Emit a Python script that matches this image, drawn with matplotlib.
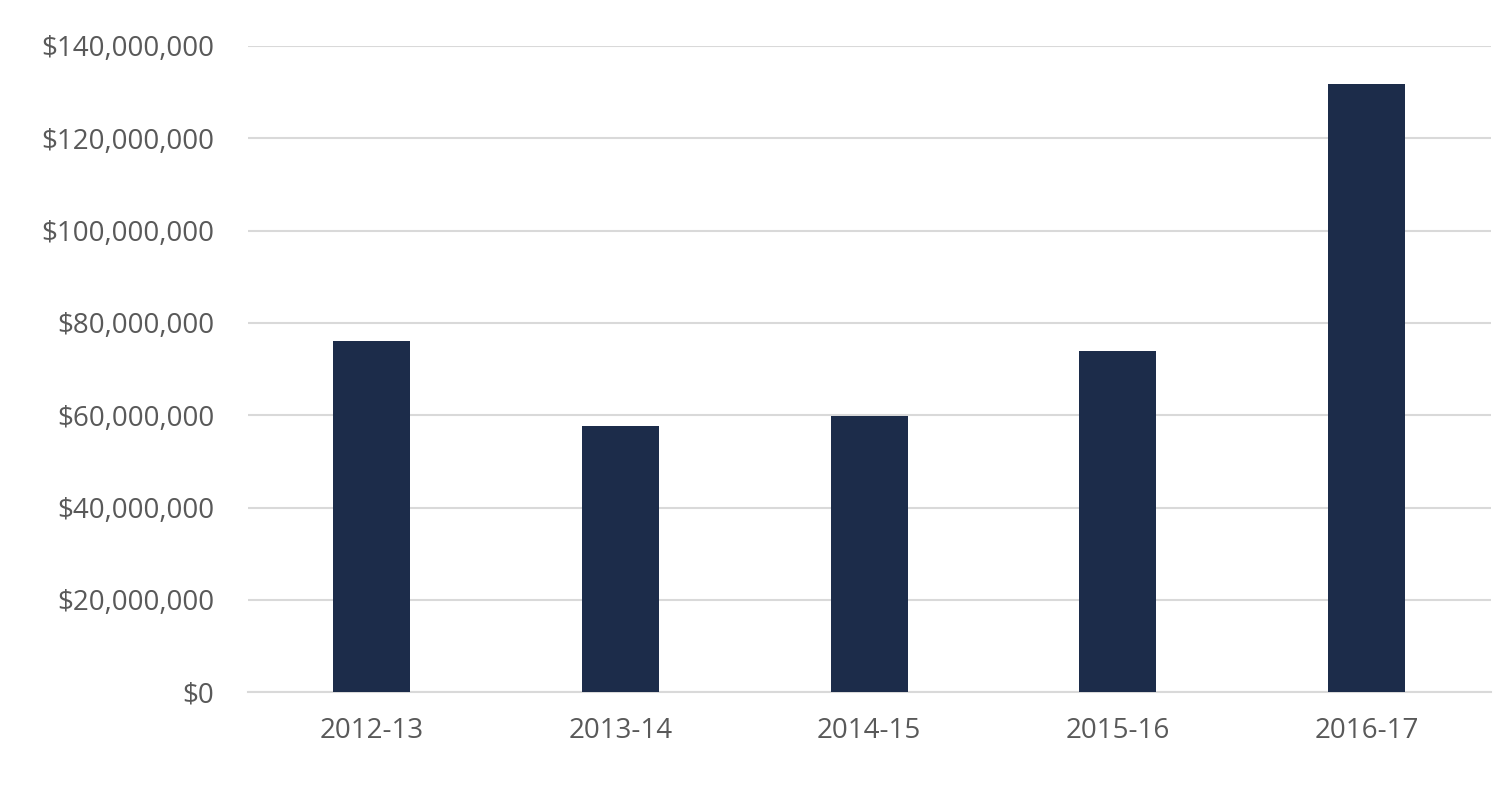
import matplotlib
matplotlib.use("Agg")
import matplotlib.pyplot as plt
from matplotlib.ticker import FuncFormatter

categories = ["2012-13", "2013-14", "2014-15", "2015-16", "2016-17"]
values = [76.1e6, 57.6e6, 59.8e6, 73.9e6, 131.8e6]

plt.rcParams['font.family'] = ['Open Sans', 'DejaVu Sans']
fig = plt.figure(figsize=(15, 7.93), dpi=100)
ax = fig.add_axes([0.165, 0.127, 0.829, 0.815])
ax.bar(range(len(categories)), values, width=0.31, color="#1c2c4a", zorder=3)
ax.set_xlim(-0.5, 4.5)
ax.set_ylim(0, 140e6)
ax.set_yticks(range(0, 140000001, 20000000))
ax.yaxis.set_major_formatter(FuncFormatter(lambda v, p: f"${v:,.0f}"))
ax.set_xticks(range(len(categories)))
ax.set_xticklabels(categories)
ax.grid(axis="y", color="#d9d9d9", linewidth=1.5, zorder=0)
for s in ["top", "right", "left"]:
    ax.spines[s].set_visible(False)
ax.spines["bottom"].set_color("#d9d9d9")
ax.spines["bottom"].set_linewidth(1.5)
ax.tick_params(length=0, labelsize=20, colors="#595959")
ax.tick_params(axis="y", pad=24)
ax.tick_params(axis="x", pad=18)
fig.savefig("out.png")
